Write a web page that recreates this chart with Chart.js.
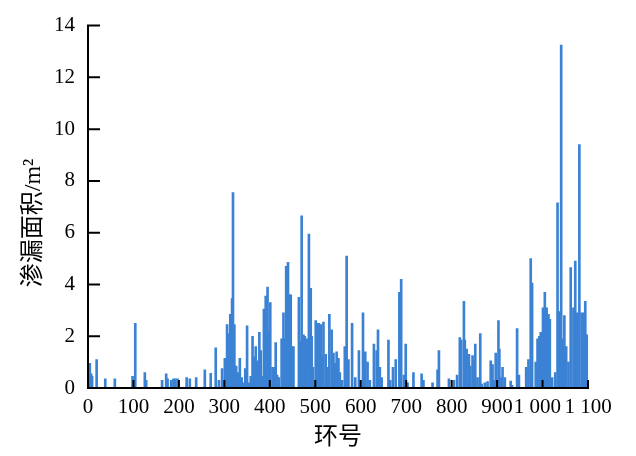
<!DOCTYPE html>
<html>
  <head>
    <meta charset="utf-8">
    <style>
      body {
        margin: 0;
        background: #fff;
      }
      #leakChart {
        display: block;
      }
    </style>
    <script src="https://cdn.jsdelivr.net/npm/chart.js"></script>
  </head>
  <body>
    <canvas id="leakChart" width="636" height="456"></canvas>
    <script>
      // ring number and leakage area (m2)
      var rings = [
        4, 7, 9, 19, 38, 59, 98, 104, 125, 128,
        163, 172, 175, 183, 188, 192, 197, 217, 224, 238,
        257, 270, 281, 288, 295, 301, 306, 309, 313, 317,
        319, 322, 326, 330, 334, 338, 342, 346, 350, 354,
        358, 362, 366, 369, 373, 377, 380, 384, 387, 391,
        395, 398, 401, 406, 409, 413, 416, 420, 426, 430,
        434, 436, 440, 443, 446, 449, 452, 464, 467, 470,
        474, 477, 481, 486, 490, 492, 495, 501, 505, 508,
        512, 515, 518, 523, 527, 531, 536, 540, 543, 547,
        551, 554, 559, 565, 569, 573, 581, 588, 596, 605,
        610, 615, 620, 629, 635, 638, 642, 646, 661, 665,
        671, 677, 685, 689, 695, 699, 703, 716, 734, 738,
        758, 769, 772, 794, 805, 812, 818, 821, 827, 829,
        833, 838, 841, 846, 849, 852, 857, 863, 866, 873,
        879, 886, 890, 894, 897, 903, 905, 909, 912, 917,
        930, 933, 944, 948, 964, 969, 974, 977, 985, 989,
        993, 996, 1001, 1005, 1009, 1013, 1016, 1021, 1028, 1033,
        1036, 1038, 1041, 1045, 1048, 1052, 1057, 1062, 1068, 1072,
        1076, 1081, 1086, 1088, 1091, 1094, 1098
      ];
      var areas = [
        0.95, 0.55, 0.45, 1.1, 0.35, 0.35, 0.45, 2.5, 0.6, 0.3,
        0.3, 0.55, 0.35, 0.3, 0.35, 0.35, 0.35, 0.4, 0.35, 0.4,
        0.7, 0.57, 1.55, 0.3, 0.75, 1.15, 2.45, 2.1, 2.85, 3.45,
        7.55, 2.45, 0.85, 0.6, 1.15, 0.4, 0.2, 0.75, 2.4, 0.2,
        0.45, 2.0, 1.2, 1.6, 1.05, 2.15, 1.45, 0.45, 3.05, 3.55,
        3.9, 2.15, 3.3, 0.8, 0.8, 1.75, 0.5, 0.4, 1.9, 2.9,
        1.9, 4.7, 4.85, 3.6, 3.6, 1.6, 1.6, 3.5, 1.8, 6.65,
        2.05, 2.0, 1.9, 5.95, 3.85, 2.0, 0.8, 2.6, 2.5, 2.5,
        2.45, 1.2, 2.55, 1.3, 0.8, 2.85, 2.25, 1.35, 0.95, 1.4,
        1.15, 0.6, 0.3, 1.6, 5.1, 1.1, 2.5, 0.4, 1.45, 2.9,
        1.4, 1.0, 0.3, 1.7, 1.45, 2.25, 0.8, 0.4, 1.85, 0.3,
        0.8, 1.1, 3.7, 4.2, 0.5, 1.7, 0.2, 0.6, 0.55, 0.3,
        0.2, 0.7, 1.45, 0.35, 0.3, 0.5, 1.95, 1.85, 3.35, 1.85,
        1.5, 1.3, 0.85, 1.25, 1.05, 1.7, 0.4, 2.1, 0.15, 0.2,
        0.25, 1.05, 0.9, 0.3, 1.35, 2.6, 1.5, 0.4, 0.8, 0.4,
        0.27, 0.1, 2.3, 0.5, 0.8, 1.1, 5.0, 4.05, 1.0, 1.9,
        2.0, 2.15, 3.1, 3.7, 3.1, 2.85, 2.65, 0.4, 0.6, 7.15,
        2.95, 1.9, 13.25, 1.9, 2.8, 1.6, 1.0, 4.65, 3.1, 4.9,
        2.9, 9.4, 2.9, 1.8, 2.9, 3.35, 2.05
      ];
      var xTitle = '环号';
      var yTitle = '渗漏面积/m²';

      var serif = "'Liberation Serif', 'Times New Roman', 'Noto Sans CJK SC', serif";

      function ringLabel(v) {
        var s = String(v);
        if (v < 1000) return s;
        var label = s.slice(0, s.length - 3) + ' ' + s.slice(-3);
        // the source nudges "1 000" a little to the left
        return v === 1000 ? label + '\u2002' : label;
      }

      // inward ticks, axis lines and axis titles
      var axisDecor = {
        id: 'axisDecor',
        afterDatasetsDraw: function(chart) {
          var ctx = chart.ctx;
          var area = chart.chartArea;
          var x = chart.scales.x;
          var y = chart.scales.y;
          ctx.save();
          ctx.strokeStyle = '#000';
          ctx.lineWidth = 2;
          ctx.beginPath();
          ctx.moveTo(area.left, area.top - 1);
          ctx.lineTo(area.left, area.bottom);
          ctx.lineTo(area.right, area.bottom);
          y.ticks.forEach(function(t) {
            var py = y.getPixelForValue(t.value);
            ctx.moveTo(area.left, py);
            ctx.lineTo(area.left + 12, py);
          });
          x.ticks.forEach(function(t) {
            var px = x.getPixelForValue(t.value);
            ctx.moveTo(px, area.bottom);
            ctx.lineTo(px, area.bottom - 8);
          });
          ctx.stroke();

          ctx.fillStyle = '#000';
          ctx.font = '24px ' + serif;
          ctx.textAlign = 'center';
          ctx.textBaseline = 'middle';
          ctx.fillText(xTitle, (area.left + area.right) / 2, 438);
          ctx.translate(34, 223);
          ctx.rotate(-Math.PI / 2);
          ctx.fillText(yTitle, 0, 0);
          ctx.restore();
        }
      };

      var points = rings.map(function(r, i) {
        return { x: r, y: areas[i] };
      });

      var ctx = document.getElementById('leakChart').getContext('2d');
      var leakChart = new Chart(ctx, {
        type: 'bar',
        data: {
          datasets: [{
            data: points,
            backgroundColor: '#3b82d4',
            borderWidth: 0,
            barThickness: 2
          }]
        },
        options: {
          responsive: false,
          animation: false,
          layout: {
            padding: { top: 24, right: 48, left: 0, bottom: 0 }
          },
          plugins: {
            legend: { display: false },
            tooltip: { enabled: false }
          },
          scales: {
            x: {
              type: 'linear',
              min: 0,
              max: 1100,
              offset: false,
              grid: { display: false, offset: false, drawTicks: false },
              border: { display: true, color: '#000', width: 2 },
              ticks: {
                stepSize: 100,
                autoSkip: false,
                maxRotation: 0,
                padding: 7,
                color: '#000',
                font: { family: serif, size: 21 },
                callback: function(v) { return ringLabel(v); }
              },
              afterFit: function(scale) { scale.height = 68; }
            },
            y: {
              min: 0,
              max: 14,
              grid: { display: false, drawTicks: false },
              border: { display: true, color: '#000', width: 2 },
              ticks: {
                stepSize: 2,
                padding: 13,
                color: '#000',
                font: { family: serif, size: 21 }
              },
              afterFit: function(scale) { scale.width = 88; }
            }
          }
        },
        plugins: [axisDecor]
      });
    </script>
  </body>
</html>
